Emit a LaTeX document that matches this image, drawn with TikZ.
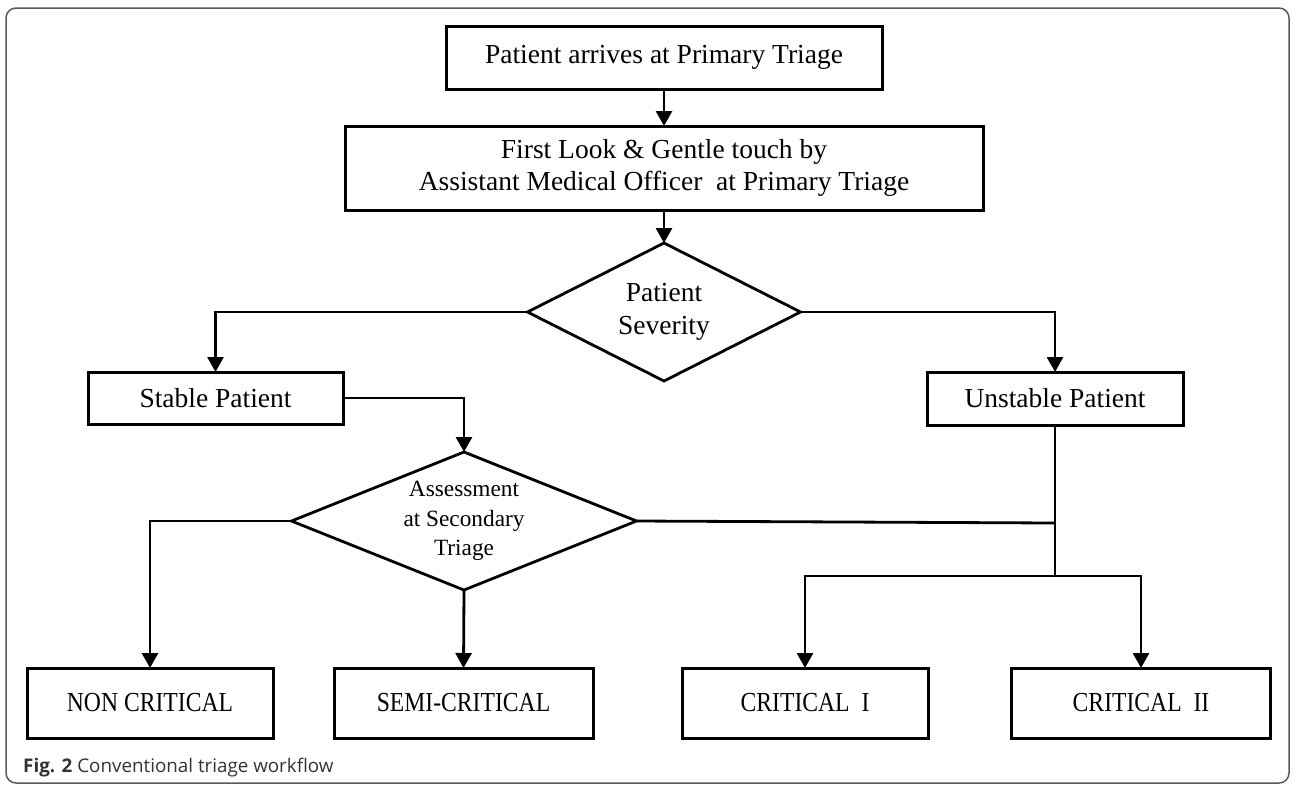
\documentclass[tikz,border=0pt]{standalone}
\usepackage{fontspec}
\setmainfont{Liberation Serif}
\newfontfamily\condfont[FakeStretch=0.86]{Liberation Serif}
\newfontfamily\capfont{Open Sans}
\usetikzlibrary{arrows.meta,shapes.geometric}
\tikzset{
  flowbox/.style={draw=black, line width=3pt, rectangle, inner sep=0pt, outer sep=0pt, align=center,
    font=\fontsize{27.5}{32}\selectfont},
  bottombox/.style={flowbox, minimum width=250pt, minimum height=70pt, font=\condfont\fontsize{27.5}{32}\selectfont},
  decision/.style={draw=black, line width=2.8pt, diamond, inner sep=0pt, outer sep=0pt, align=center},
  conn/.style={draw=black, line width=2.8pt},
  arr/.style={conn, -{Triangle[width=16pt,length=15pt]}},
  frame/.style={draw=black!65, line width=1.5pt, rounded corners=10pt}
}
\begin{document}
\begin{tikzpicture}[x=1pt,y=-1pt]
\useasboundingbox (0,0) rectangle (1292,785);
\draw[frame] (6,8) rectangle (1289,783);

\node[flowbox, minimum width=436pt, minimum height=63pt] (b1) at (664,57.5) {Patient arrives at Primary Triage};
\node[flowbox, minimum width=638pt, minimum height=84pt] (b2) at (664,168) {First Look \& Gentle touch by\\Assistant Medical Officer~ at Primary Triage};
\node[decision, minimum width=273pt, minimum height=138pt, aspect=1.98, font=\fontsize{27.5}{33}\selectfont] (d1) at (664,312) {Patient\\Severity};
\node[flowbox, minimum width=255pt, minimum height=52pt] (stable) at (215.5,398) {Stable Patient};
\node[flowbox, minimum width=256pt, minimum height=53pt] (unstable) at (1055,398.5) {Unstable Patient};
\node[decision, minimum width=345pt, minimum height=138pt, aspect=2.5, font=\fontsize{23.3}{29.5}\selectfont] (d2) at (464,521) {Assessment\\at Secondary\\Triage};

\node[bottombox, minimum width=246pt] (non) at (150,703) {NON CRITICAL};
\node[bottombox, minimum width=259pt] (semi) at (463.5,703) {SEMI-CRITICAL};
\node[bottombox, minimum width=246pt] (c1) at (805,703) {CRITICAL~ I};
\node[bottombox, minimum width=259pt] (c2) at (1141,703) {CRITICAL~ II};

\coordinate (j1) at (1055,523);
\coordinate (j2) at (1055,576);

\draw[arr] (b1.south) -- (b2.north);
\draw[arr] (b2.south) -- (d1.north);
\draw[arr] (d1.west) -| (stable.north);
\draw[arr] (d1.east) -| (unstable.north);
\draw[arr] (stable.east) -| (d2.north);
\draw[arr] (d2.west) -| (non.north);
\draw[arr] (d2.south) -- (semi.north);
\draw[conn] (d2.east) -- (j1);
\draw[conn] (unstable.south) -- (j2);
\draw[arr] (j2) -| (c1.north);
\draw[arr] (j2) -| (c2.north);

\node[anchor=base west, inner sep=0pt, text=black!80, font=\capfont\fontsize{18.8}{22}\selectfont] (cap) at (23,772) {\textbf{Fig. 2} Conventional triage workflow};
\end{tikzpicture}
\end{document}
